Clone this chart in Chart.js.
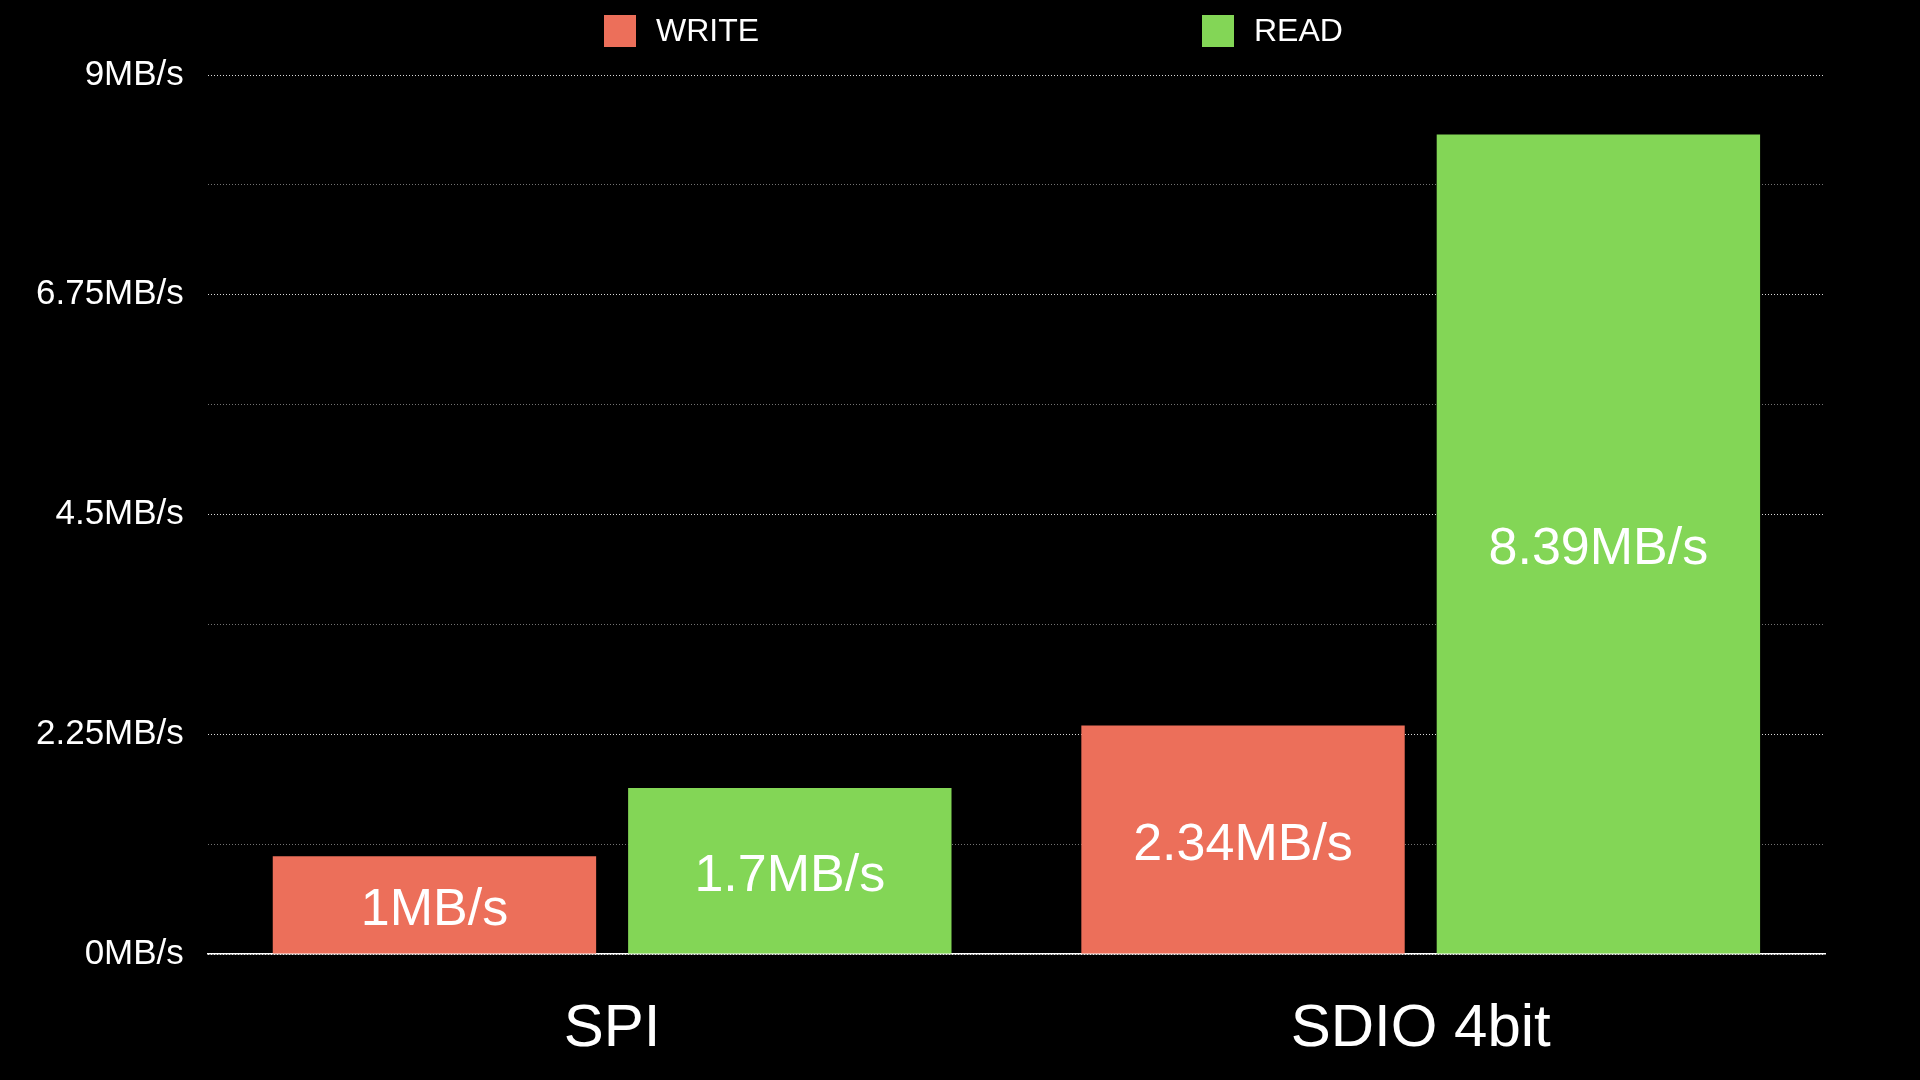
<!DOCTYPE html>
<html>
<head>
<meta charset="utf-8">
<script src="https://cdn.jsdelivr.net/npm/chart.js@4.4.0/dist/chart.umd.min.js"></script>
<style>
  html, body { margin: 0; padding: 0; background: #000; }
  #wrap { width: 1920px; height: 1080px; }
</style>
</head>
<body>
<div id="wrap"><canvas id="speedChart"></canvas></div>
<script>
const categories = ['SPI', 'SDIO 4bit'];
const seriesNames = ['WRITE', 'READ'];
const writeSpeed = [1, 2.34];
const readSpeed = [1.7, 8.39];
const seriesColors = ['#ec6f5a', '#83d656'];
const yMax = 9;
const yStep = 1.125;
const unit = 'MB/s';

const fontFamily = '"Liberation Sans", Arial, Helvetica, sans-serif';

// value text in the middle of each bar
const barValueLabels = {
    id: 'barValueLabels',
    afterDatasetsDraw(chart) {
        const ctx = chart.ctx;
        ctx.save();
        ctx.font = '52px ' + fontFamily;
        ctx.fillStyle = '#fff';
        ctx.textAlign = 'center';
        ctx.textBaseline = 'middle';
        chart.data.datasets.forEach((ds, i) => {
            chart.getDatasetMeta(i).data.forEach((bar, j) => {
                ctx.fillText(ds.data[j] + unit, bar.x, (bar.y + bar.base) / 2 + 6);
            });
        });
        ctx.restore();
    }
};

// legend with the two items spread apart
const spreadLegend = {
    id: 'spreadLegend',
    afterDraw(chart, args, opts) {
        const ctx = chart.ctx;
        ctx.save();
        ctx.font = opts.fontSize + 'px ' + fontFamily;
        ctx.textAlign = 'left';
        ctx.textBaseline = 'middle';
        chart.data.datasets.forEach((ds, i) => {
            const x = opts.x[i];
            ctx.fillStyle = ds.backgroundColor;
            ctx.fillRect(x, opts.top, opts.box, opts.box);
            ctx.fillStyle = '#fff';
            ctx.fillText(ds.label, x + opts.box + opts.gap, opts.top + opts.box / 2 + 1);
        });
        ctx.restore();
    }
};

const ctx = document.getElementById('speedChart').getContext('2d');

const speedChart = new Chart(ctx, {
    type: 'bar',
    data: {
        labels: categories,
        datasets: [{
            label: seriesNames[0],
            data: writeSpeed,
            backgroundColor: seriesColors[0],
            categoryPercentage: 0.879,
            barPercentage: 0.91
        }, {
            label: seriesNames[1],
            data: readSpeed,
            backgroundColor: seriesColors[1],
            categoryPercentage: 0.879,
            barPercentage: 0.91
        }]
    },
    options: {
        responsive: true,
        maintainAspectRatio: false,
        animation: false,
        layout: {
            padding: { top: 75, right: 95, bottom: 0, left: 12 }
        },
        plugins: {
            legend: { display: false },
            tooltip: { enabled: false },
            spreadLegend: { x: [604, 1202], top: 15, box: 32, gap: 20, fontSize: 32 }
        },
        scales: {
            x: {
                grid: { display: false, drawTicks: false },
                border: { display: true, color: '#fff', width: 1.5 },
                ticks: {
                    color: '#fff',
                    padding: 39,
                    font: { size: 60, family: fontFamily }
                },
                afterFit(scale) {
                    scale.height = 126;
                }
            },
            y: {
                min: 0,
                max: yMax,
                border: { display: false, dash: [1, 2] },
                grid: {
                    drawTicks: false,
                    lineWidth: 1,
                    color: (c) => c.index % 2 === 0 ? 'rgba(255,255,255,0.85)' : 'rgba(255,255,255,0.45)'
                },
                ticks: {
                    stepSize: yStep,
                    autoSkip: false,
                    color: '#fff',
                    padding: 24,
                    font: { size: 35, family: fontFamily },
                    callback: (v, i) => i % 2 === 0 ? v + unit : ''
                }
            }
        }
    },
    plugins: [barValueLabels, spreadLegend]
});
</script>
</body>
</html>
